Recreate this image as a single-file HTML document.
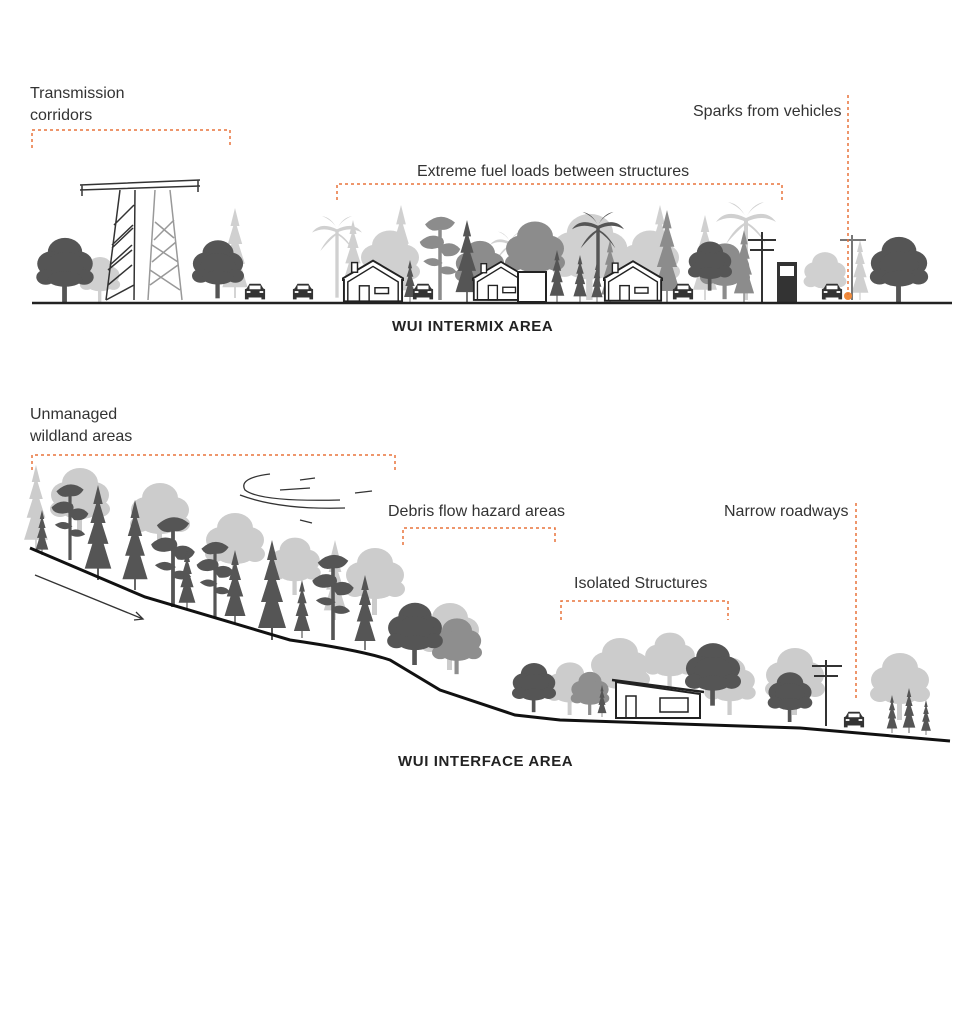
<!DOCTYPE html>
<html><head><meta charset="utf-8"><style>
html,body{margin:0;padding:0;background:#fff;}
svg{display:block}
text{font-family:"Liberation Sans",sans-serif;}
</style></head><body>
<svg width="970" height="1024" viewBox="0 0 970 1024" xmlns="http://www.w3.org/2000/svg">
<defs>
<symbol id="con" viewBox="0 0 30 100"><polygon points="15,0 20,20 17,20 23,40 19,40 26,62 21,62 29,88 16,88 16,100 14,100 14,88 1,88 9,62 4,62 11,40 7,40 13,20 10,20"/></symbol>
<symbol id="rnd" viewBox="0 0 60 70"><rect x="27" y="40" width="5" height="30"/><ellipse cx="30" cy="18" rx="18" ry="15"/><ellipse cx="16" cy="30" rx="15" ry="13"/><ellipse cx="44" cy="30" rx="15" ry="13"/><ellipse cx="30" cy="32" rx="20" ry="14"/><ellipse cx="10" cy="44" rx="10" ry="8"/><ellipse cx="50" cy="44" rx="10" ry="8"/><ellipse cx="30" cy="46" rx="18" ry="8"/></symbol>
<symbol id="pine" viewBox="0 0 50 100"><rect x="23" y="20" width="4" height="80"/><path d="M8 14 Q25 -2 42 12 Q36 22 25 20 Q14 24 8 14Z"/><path d="M2 34 Q14 22 28 30 Q34 40 16 42 Q4 42 2 34Z"/><path d="M22 40 Q38 30 48 42 Q44 52 30 50Z"/><path d="M6 56 Q18 48 28 58 Q18 66 6 56Z"/><path d="M24 64 Q36 58 44 68 Q34 74 24 68Z"/></symbol>
<symbol id="palm" viewBox="0 0 60 100"><rect x="28" y="18" width="4" height="82"/><path d="M30 18 Q10 8 0 22 Q14 14 30 22 Q18 28 10 44 Q22 30 30 24 Q40 30 50 44 Q42 28 30 22 Q46 14 60 22 Q50 8 30 18 Q24 4 12 2 Q26 8 30 18 Q36 4 48 2 Q34 8 30 18Z"/></symbol>
<symbol id="car" viewBox="0 0 24 20"><path d="M3 6 L6 1 L18 1 L21 6 L23 7 L23 18 L19 18 L19 16 L5 16 L5 18 L1 18 L1 7Z" fill="#333"/><rect x="6" y="3" width="12" height="4" fill="#fff"/><rect x="3" y="9" width="4" height="2" fill="#fff"/><rect x="17" y="9" width="4" height="2" fill="#fff"/></symbol>
<symbol id="house" viewBox="0 0 64 44"><path d="M2 44 L2 22 L-2 22 L32 2 L66 22 L62 22 L62 44Z" fill="#fff" stroke="#222" stroke-width="2"/><path d="M6 44 L6 24 L32 8 L58 24 L58 44" fill="none" stroke="#222" stroke-width="1.5"/><rect x="10" y="4" width="6" height="10" fill="#fff" stroke="#222" stroke-width="1.5"/><rect x="18" y="28" width="10" height="16" fill="none" stroke="#222" stroke-width="1.5"/><rect x="34" y="30" width="14" height="6" fill="none" stroke="#222" stroke-width="1.5"/></symbol>
</defs>

<!-- TOP SECTION -->
<g fill="#d0d0d0">
<use href="#palm" x="312" y="210" width="50" height="92"/>
<use href="#con" x="384" y="205" width="34" height="97"/>
<use href="#palm" x="490" y="225" width="40" height="77"/>
<use href="#con" x="640" y="205" width="40" height="97"/>
<use href="#palm" x="716" y="200" width="60" height="100"/>
<use href="#con" x="220" y="208" width="30" height="90"/>
<use href="#rnd" x="550" y="210" width="80" height="90"/>
<use href="#con" x="690" y="215" width="30" height="85"/>
<use href="#con" x="850" y="240" width="20" height="60"/>
<use href="#rnd" x="70" y="255" width="60" height="47"/>
<use href="#rnd" x="360" y="225" width="60" height="75"/>
<use href="#rnd" x="620" y="225" width="60" height="75"/>
<use href="#rnd" x="800" y="250" width="50" height="50"/>
<use href="#con" x="340" y="220" width="26" height="70"/>
</g>
<g fill="#8c8c8c">
<use href="#pine" x="418" y="210" width="44" height="92"/>
<use href="#rnd" x="505" y="205" width="60" height="97"/>
<use href="#con" x="650" y="210" width="34" height="92"/>
<use href="#con" x="732" y="230" width="24" height="72"/>
<use href="#con" x="600" y="240" width="20" height="62"/>
<use href="#rnd" x="455" y="235" width="50" height="65"/>
<use href="#rnd" x="700" y="240" width="50" height="60"/>
</g>
<g fill="#555">
<use href="#rnd" x="28" y="235" width="74" height="67"/>
<use href="#rnd" x="192" y="234" width="52" height="68"/>
<use href="#con" x="452" y="220" width="30" height="82"/>
<use href="#palm" x="572" y="205" width="52" height="97"/>
<use href="#con" x="545" y="250" width="24" height="52"/>
<use href="#con" x="568" y="255" width="24" height="47"/>
<use href="#rnd" x="688" y="228" width="44" height="74"/>
<use href="#rnd" x="856" y="234" width="86" height="68"/>
<use href="#con" x="400" y="260" width="20" height="42"/>
<use href="#con" x="588" y="262" width="18" height="40"/>
</g>
<!-- towers -->
<g stroke="#333" stroke-width="1.5" fill="none">
<path d="M80 185 L200 180 M80 190 L200 186 M82 185 L82 196 M198 180 L198 192"/>
<path d="M120 190 L106 300 M135 190 L134 300 M108 285 L132 265 M110 265 L132 245 M112 245 L133 225 M114 225 L134 205 M106 300 L134 285 M108 270 L132 250 M112 248 L133 228"/>
</g>
<g stroke="#999" stroke-width="1.5" fill="none">
<path d="M155 190 L148 300 M170 190 L182 300 M150 285 L178 265 M152 262 L176 242 M154 240 L174 220 M150 270 L180 290 M152 245 L178 262 M155 222 L174 238"/>
</g>
<g stroke="#333" stroke-width="2" fill="none">
<path d="M762 232 L762 302 M748 240 L776 240 M750 250 L774 250"/>
<path d="M852 235 L852 300 M840 240 L866 240" stroke="#777"/>
</g>
<rect x="777" y="262" width="20" height="40" fill="#333"/><rect x="780" y="266" width="14" height="10" fill="#fff"/>
<use href="#house" x="342" y="258" width="62" height="44"/>
<use href="#house" x="472" y="258" width="58" height="44"/>
<rect x="518" y="272" width="28" height="30" fill="#fff" stroke="#222" stroke-width="2"/>
<use href="#house" x="603" y="258" width="60" height="44"/>
<use href="#car" x="244" y="282" width="22" height="20"/>
<use href="#car" x="292" y="282" width="22" height="20"/>
<use href="#car" x="412" y="282" width="22" height="20"/>
<use href="#car" x="672" y="282" width="22" height="20"/>
<use href="#car" x="821" y="282" width="22" height="20"/>
<circle cx="848" cy="296" r="4" fill="#f08a3a"/>
<line x1="32" y1="303" x2="952" y2="303" stroke="#222" stroke-width="2.5"/>

<g stroke="#e8743b" stroke-width="1.5" stroke-dasharray="3,3" fill="none">
<path d="M32 148 L32 130 L230 130 L230 148"/>
<path d="M337 200 L337 184 L782 184 L782 200"/>
<path d="M848 95 L848 295"/>
<path d="M32 470 L32 455 L395 455 L395 470"/>
<path d="M403 545 L403 528 L555 528 L555 545"/>
<path d="M561 620 L561 601 L728 601 L728 620"/>
<path d="M856 503 L856 700"/>
</g>
<g font-size="16" fill="#333">
<text x="30" y="98">Transmission</text>
<text x="30" y="120">corridors</text>
<text x="693" y="116">Sparks from vehicles</text>
<text x="417" y="176">Extreme fuel loads between structures</text>
<text x="30" y="419">Unmanaged</text>
<text x="30" y="441">wildland areas</text>
<text x="388" y="516">Debris flow hazard areas</text>
<text x="724" y="516">Narrow roadways</text>
<text x="574" y="588">Isolated Structures</text>
</g>
<text x="392" y="331" font-size="15" font-weight="bold" fill="#222" letter-spacing="0.6">WUI INTERMIX AREA</text>
<text x="398" y="766" font-size="15" font-weight="bold" fill="#222" letter-spacing="0.6">WUI INTERFACE AREA</text>

<!-- BOTTOM SECTION -->
<g fill="#cccccc">
<use href="#con" x="16" y="465" width="40" height="85"/>
<use href="#rnd" x="40" y="465" width="80" height="70"/>
<use href="#rnd" x="125" y="480" width="70" height="70"/>
<use href="#rnd" x="200" y="510" width="70" height="70"/>
<use href="#rnd" x="260" y="535" width="70" height="60"/>
<use href="#con" x="320" y="540" width="30" height="80"/>
<use href="#rnd" x="340" y="545" width="70" height="70"/>
<use href="#rnd" x="420" y="600" width="60" height="70"/>
<use href="#rnd" x="580" y="635" width="80" height="70"/>
<use href="#rnd" x="640" y="630" width="60" height="60"/>
<use href="#rnd" x="760" y="645" width="70" height="70"/>
<use href="#rnd" x="860" y="650" width="80" height="70"/>
<use href="#rnd" x="545" y="660" width="50" height="55"/>
<use href="#rnd" x="700" y="655" width="60" height="60"/>
</g>
<g fill="#8e8e8e">
<use href="#rnd" x="432" y="610" width="50" height="70"/>
<use href="#rnd" x="570" y="670" width="40" height="45"/>
</g>
<g fill="#555">
<use href="#con" x="30" y="510" width="24" height="45"/>
<use href="#pine" x="50" y="480" width="40" height="80"/>
<use href="#con" x="78" y="485" width="40" height="95"/>
<use href="#con" x="115" y="500" width="40" height="90"/>
<use href="#pine" x="148" y="512" width="50" height="95"/>
<use href="#con" x="176" y="550" width="22" height="60"/>
<use href="#pine" x="195" y="535" width="40" height="85"/>
<use href="#con" x="220" y="550" width="30" height="75"/>
<use href="#con" x="252" y="540" width="40" height="100"/>
<use href="#con" x="290" y="580" width="24" height="58"/>
<use href="#pine" x="308" y="550" width="50" height="90"/>
<use href="#con" x="350" y="575" width="30" height="75"/>
<use href="#rnd" x="385" y="600" width="60" height="65"/>
<use href="#rnd" x="512" y="658" width="44" height="57"/>
<use href="#rnd" x="685" y="632" width="56" height="82"/>
<use href="#rnd" x="765" y="670" width="50" height="52"/>
<use href="#con" x="882" y="695" width="20" height="38"/>
<use href="#con" x="898" y="688" width="22" height="45"/>
<use href="#con" x="918" y="700" width="16" height="35"/>
<use href="#con" x="592" y="685" width="20" height="32"/>
</g>
<g stroke="#333" stroke-width="1.3" fill="none">
<path d="M270 474 Q238 478 245 490 Q260 502 340 500"/>
<path d="M240 495 Q280 510 345 508"/>
<path d="M280 490 L310 488 M300 480 L315 478 M355 493 L372 491 M300 520 L312 523"/>
</g>
<path d="M616 718 L616 682 L700 694 L700 718Z" fill="#fff" stroke="#222" stroke-width="2"/>
<path d="M612 680 L704 692" stroke="#222" stroke-width="2.5"/>
<rect x="660" y="698" width="28" height="14" fill="none" stroke="#222" stroke-width="1.5"/>
<rect x="626" y="696" width="10" height="22" fill="none" stroke="#222" stroke-width="1.5"/>
<g stroke="#333" stroke-width="2" fill="none"><path d="M826 660 L826 726 M812 666 L842 666 M814 676 L838 676"/></g>
<use href="#car" x="843" y="710" width="22" height="20"/>
<path d="M30 548 L145 597 L290 640 Q360 650 390 660 L440 690 L515 715 L560 720 L800 728 L950 741" stroke="#111" stroke-width="3" fill="none"/>
<path d="M35 575 L143 619" stroke="#333" stroke-width="1.3"/><path d="M136 612 L143 619 L134 620" stroke="#333" stroke-width="1.3" fill="none"/>
</svg>
</body></html>
